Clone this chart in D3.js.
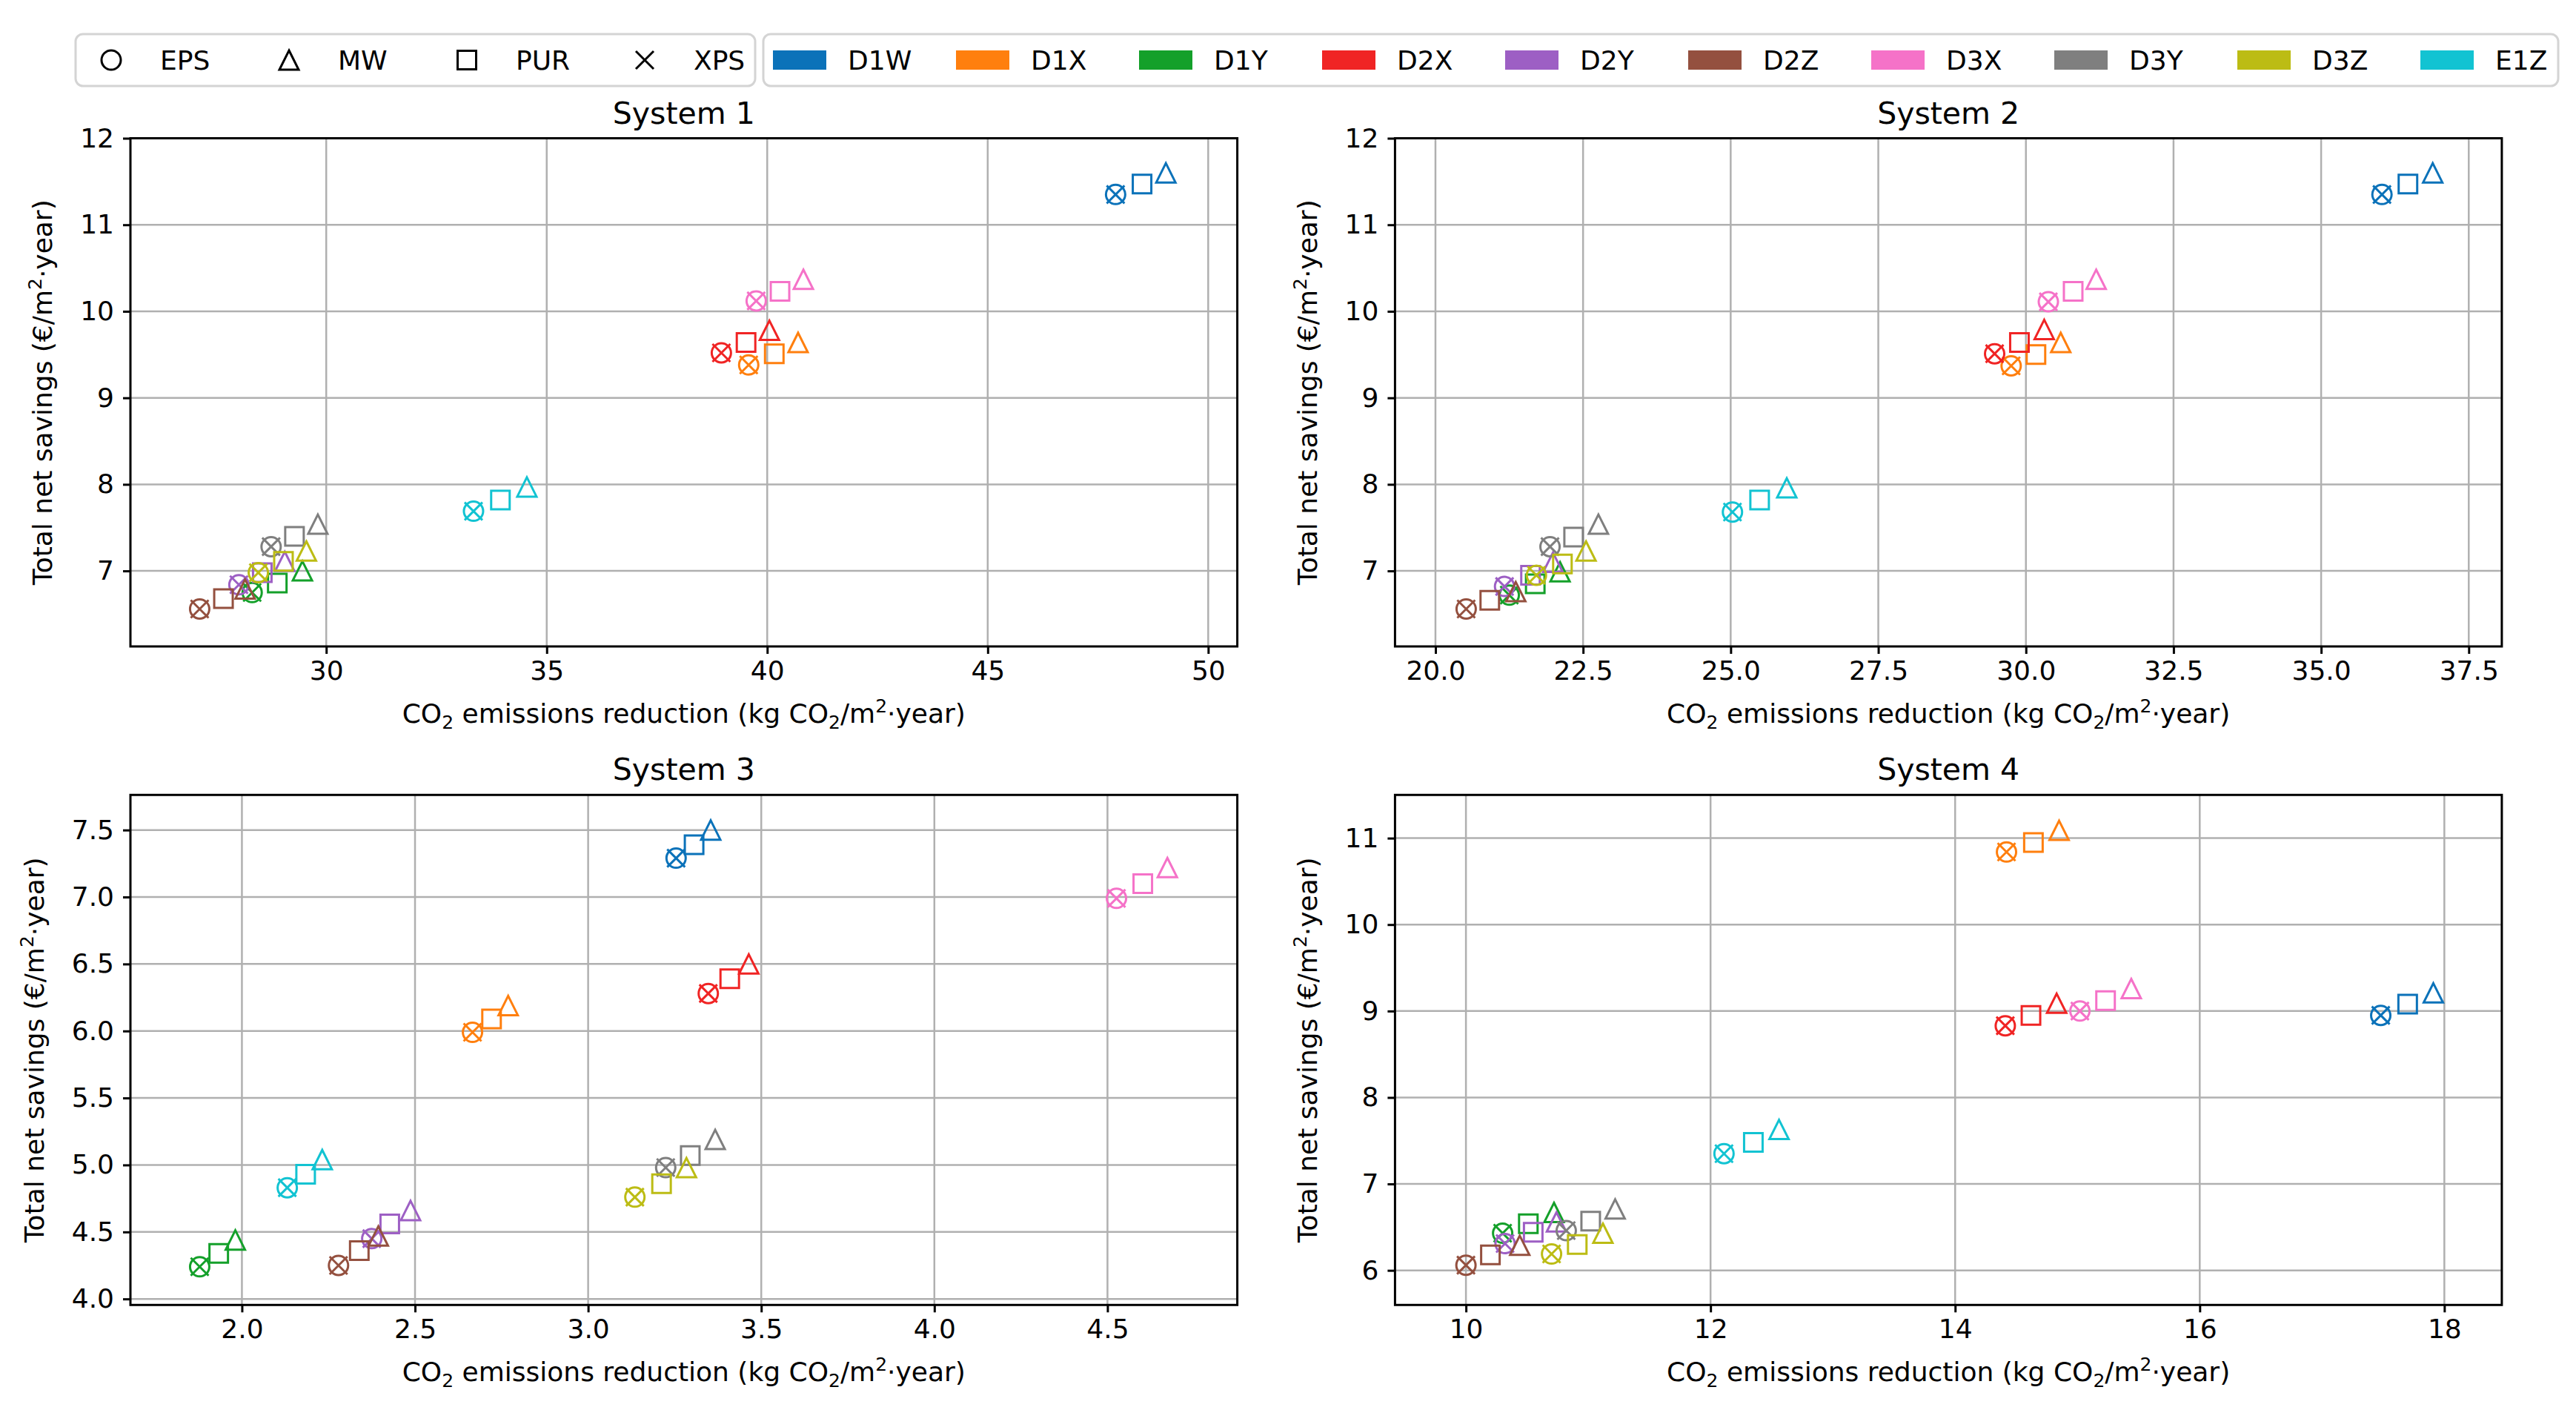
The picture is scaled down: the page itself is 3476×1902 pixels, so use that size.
<!DOCTYPE html>
<meta charset="utf-8">
<title>Total net savings vs CO2 emissions reduction</title>
<style>
    body {
        margin: 0;
        background: #fff;
    }
    svg {
        display: block;
    }
    svg text {
        font-family: "DejaVu Sans", sans-serif;
        fill: #000;
    }
</style>

<body>
    <script src="https://d3js.org/d3.v7.min.js"></script>
    <script>
        /* Designs (colours) and insulation materials (marker shapes) */
        var designs = ["D1W", "D1X", "D1Y", "D2X", "D2Y", "D2Z", "D3X", "D3Y", "D3Z", "E1Z"];
        var insulations = ["EPS", "MW", "PUR", "XPS"];
        var designColors = ["#0b72b9", "#ff7f0e", "#14a02a", "#f02424", "#9d5fc4",
            "#94503f", "#f572c8", "#7f7f7f", "#bcbc14", "#12c3d2"];

        var systemTitles = ["System 1", "System 2", "System 3", "System 4"];

        /* rows: EPS, MW, PUR, XPS ; columns: designs in the order above */
        /* CO2 emissions reduction (kg CO2/m2 year) */
        var sys1CO2 = [
            [47.90, 39.58, 28.32, 38.96, 28.02, 27.13, 39.75, 28.75, 28.46, 33.34],
            [49.04, 40.70, 29.46, 40.05, 29.06, 28.16, 40.82, 29.81, 29.55, 34.55],
            [48.50, 40.16, 28.89, 39.52, 28.55, 27.67, 40.29, 29.28, 29.03, 33.95],
            [47.90, 39.58, 28.32, 38.96, 28.02, 27.13, 39.75, 28.75, 28.46, 33.34]
        ];
        /* Total net savings (EUR/m2 year) */
        var sys1Savings = [
            [11.35, 9.38, 6.75, 9.52, 6.84, 6.56, 10.12, 7.28, 6.98, 7.69],
            [11.60, 9.64, 7.00, 9.78, 7.11, 6.79, 10.37, 7.54, 7.23, 7.97],
            [11.47, 9.51, 6.86, 9.64, 6.98, 6.68, 10.23, 7.40, 7.11, 7.82],
            [11.35, 9.38, 6.75, 9.52, 6.84, 6.56, 10.12, 7.28, 6.98, 7.69]
        ];

        var sys2CO2 = [
            [36.03, 29.75, 21.25, 29.47, 21.17, 20.52, 30.38, 21.94, 21.71, 25.03],
            [36.89, 30.59, 22.11, 30.31, 21.99, 21.36, 31.19, 22.76, 22.55, 25.95],
            [36.47, 30.17, 21.69, 29.89, 21.61, 20.92, 30.80, 22.34, 22.15, 25.49],
            [36.03, 29.75, 21.25, 29.47, 21.17, 20.52, 30.38, 21.94, 21.71, 25.03]
        ];
        var sys2Savings = [
            [11.35, 9.37, 6.72, 9.51, 6.82, 6.56, 10.11, 7.28, 6.95, 7.68],
            [11.60, 9.64, 6.99, 9.79, 7.10, 6.76, 10.37, 7.54, 7.23, 7.96],
            [11.47, 9.50, 6.85, 9.64, 6.95, 6.66, 10.23, 7.39, 7.08, 7.82],
            [11.35, 9.37, 6.72, 9.51, 6.82, 6.56, 10.11, 7.28, 6.95, 7.68]
        ];

        var sys3CO2 = [
            [3.254, 2.666, 1.878, 3.347, 2.375, 2.279, 4.526, 3.224, 3.135, 2.131],
            [3.354, 2.769, 1.981, 3.464, 2.487, 2.394, 4.673, 3.367, 3.284, 2.232],
            [3.306, 2.721, 1.933, 3.409, 2.427, 2.339, 4.602, 3.295, 3.212, 2.184],
            [3.254, 2.666, 1.878, 3.347, 2.375, 2.279, 4.526, 3.224, 3.135, 2.131]
        ];
        var sys3Savings = [
            [7.29, 5.99, 4.24, 6.28, 4.45, 4.25, 6.99, 4.98, 4.76, 4.83],
            [7.50, 6.19, 4.44, 6.50, 4.66, 4.47, 7.22, 5.19, 4.98, 5.04],
            [7.39, 6.09, 4.34, 6.39, 4.56, 4.36, 7.10, 5.07, 4.86, 4.93],
            [7.29, 5.99, 4.24, 6.28, 4.45, 4.25, 6.99, 4.98, 4.76, 4.83]
        ];

        var sys4CO2 = [
            [17.48, 14.42, 10.30, 14.41, 10.32, 10.00, 15.02, 10.82, 10.70, 12.11],
            [17.91, 14.85, 10.72, 14.83, 10.74, 10.44, 15.44, 11.22, 11.12, 12.56],
            [17.70, 14.64, 10.51, 14.62, 10.55, 10.20, 15.23, 11.02, 10.91, 12.35],
            [17.48, 14.42, 10.30, 14.41, 10.32, 10.00, 15.02, 10.82, 10.70, 12.11]
        ];
        var sys4Savings = [
            [8.95, 10.84, 6.43, 8.83, 6.31, 6.06, 9.00, 6.46, 6.19, 7.35],
            [9.21, 11.09, 6.67, 9.09, 6.56, 6.29, 9.26, 6.71, 6.43, 7.63],
            [9.08, 10.95, 6.54, 8.95, 6.44, 6.18, 9.12, 6.57, 6.30, 7.48],
            [8.95, 10.84, 6.43, 8.83, 6.31, 6.06, 9.00, 6.46, 6.19, 7.35]
        ];

        /* tick values */
        var sys1XTicks = [30, 35, 40, 45, 50];
        var sys1YTicks = [7, 8, 9, 10, 11, 12];
        var sys2XTicks = [20, 22.5, 25, 27.5, 30, 32.5, 35, 37.5];
        var sys2YTicks = [7, 8, 9, 10, 11, 12];
        var sys3XTicks = [2.0, 2.5, 3.0, 3.5, 4.0, 4.5];
        var sys3YTicks = [4.0, 4.5, 5.0, 5.5, 6.0, 6.5, 7.0, 7.5];
        var sys4XTicks = [10, 12, 14, 16, 18];
        var sys4YTicks = [6, 7, 8, 9, 10, 11];

        /* Layout */
        var width = 3476,
            height = 1902;
        var fontSize = 36;

        var svg = d3.select("body").append("svg")
            .attr("width", width)
            .attr("height", height);

        svg.append("rect").attr("width", width).attr("height", height).attr("fill", "#fff");

        /* marker path for each insulation */
        function markerPath(k) {
            var r = 13;
            if (k === 0) return "M" + r + ",0A" + r + "," + r + " 0 1,1 " + (-r) + ",0A" + r + "," + r + " 0 1,1 " + r + ",0Z";
            if (k === 1) return "M0," + (-r) + "L" + r + "," + r + "L" + (-r) + "," + r + "Z";
            if (k === 2) return "M-12.5,-12.5H12.5V12.5H-12.5Z";
            return "M-12,-12L12,12M-12,12L12,-12";
        }

        var panels = [
            { left: 176, top: 186.5, w: 1493.6, h: 685.5, xDomain: [25.56, 50.66], yDomain: [6.127, 12.0] },
            { left: 1882.4, top: 186.5, w: 1493.5, h: 685.5, xDomain: [19.315, 38.06], yDomain: [6.127, 12.0] },
            { left: 176, top: 1072.3, w: 1493.6, h: 688, xDomain: [1.678, 4.875], yDomain: [3.955, 7.762] },
            { left: 1882.4, top: 1072.3, w: 1493.5, h: 688, xDomain: [9.42, 18.47], yDomain: [5.6, 11.5] }
        ];

        drawPanel(panels[0], sys1CO2, sys1Savings, systemTitles[0], sys1XTicks, sys1YTicks, d3.format("d"), d3.format("d"));
        drawPanel(panels[1], sys2CO2, sys2Savings, systemTitles[1], sys2XTicks, sys2YTicks, d3.format(".1f"), d3.format("d"));
        drawPanel(panels[2], sys3CO2, sys3Savings, systemTitles[2], sys3XTicks, sys3YTicks, d3.format(".1f"), d3.format(".1f"));
        drawPanel(panels[3], sys4CO2, sys4Savings, systemTitles[3], sys4XTicks, sys4YTicks, d3.format("d"), d3.format("d"));

        drawLegend();

        function drawPanel(p, co2, savings, title, xTicks, yTicks, xFmt, yFmt) {
            var g = svg.append("g").attr("transform", "translate(" + p.left + "," + p.top + ")");
            var x = d3.scaleLinear().domain(p.xDomain).range([0, p.w]);
            var y = d3.scaleLinear().domain(p.yDomain).range([p.h, 0]);

            // grid
            g.append("g").selectAll("line")
                .data(xTicks)
                .join("line")
                .attr("x1", d => x(d)).attr("x2", d => x(d))
                .attr("y1", 0).attr("y2", p.h)
                .attr("stroke", "#b0b0b0").attr("stroke-width", 2.5);
            g.append("g").selectAll("line")
                .data(yTicks)
                .join("line")
                .attr("x1", 0).attr("x2", p.w)
                .attr("y1", d => y(d)).attr("y2", d => y(d))
                .attr("stroke", "#b0b0b0").attr("stroke-width", 2.5);

            // markers: one group per design, one marker per insulation
            designs.forEach(function (name, j) {
                var mg = g.append("g").attr("class", "design");
                insulations.forEach(function (ins, k) {
                    mg.append("path")
                        .attr("d", markerPath(k))
                        .attr("transform", "translate(" + x(co2[k][j]) + "," + y(savings[k][j]) + ")")
                        .attr("fill", "none")
                        .attr("stroke", designColors[j])
                        .attr("stroke-width", 3);
                });
            });

            // frame
            g.append("rect")
                .attr("width", p.w).attr("height", p.h)
                .attr("fill", "none").attr("stroke", "#000").attr("stroke-width", 3);

            // axes
            var xa = g.append("g")
                .attr("transform", "translate(0," + p.h + ")")
                .call(d3.axisBottom(x).tickValues(xTicks).tickFormat(xFmt).tickSize(10).tickPadding(9));
            var ya = g.append("g")
                .call(d3.axisLeft(y).tickValues(yTicks).tickFormat(yFmt).tickSize(10).tickPadding(12));
            [xa, ya].forEach(function (a) {
                a.select(".domain").remove();
                a.attr("font-size", fontSize).attr("font-family", "DejaVu Sans");
                a.selectAll("line").attr("stroke-width", 3);
            });

            // title
            g.append("text")
                .attr("x", p.w / 2).attr("y", -20)
                .attr("text-anchor", "middle")
                .attr("font-size", 41)
                .text(title);

            // x label with sub/superscripts
            var xl = g.append("text")
                .attr("x", p.w / 2).attr("y", p.h + 103)
                .attr("text-anchor", "middle")
                .attr("font-size", fontSize);
            xl.append("tspan").text("CO");
            xl.append("tspan").attr("font-size", 25).attr("dy", 8).text("2");
            xl.append("tspan").attr("dy", -8).text(" emissions reduction (kg CO");
            xl.append("tspan").attr("font-size", 25).attr("dy", 8).text("2");
            xl.append("tspan").attr("dy", -8).text("/m");
            xl.append("tspan").attr("font-size", 25).attr("dy", -14).text("2");
            xl.append("tspan").attr("dy", 14).text("\u00b7year)");

            // y label
            var bb = ya.node().getBBox();
            var yl = g.append("text")
                .attr("transform", "translate(" + (bb.x - 38) + "," + (p.h / 2) + ") rotate(-90)")
                .attr("text-anchor", "middle")
                .attr("font-size", fontSize);
            yl.append("tspan").text("Total net savings (\u20ac/m");
            yl.append("tspan").attr("font-size", 25).attr("dy", -14).text("2");
            yl.append("tspan").attr("dy", 14).text("\u00b7year)");
        }

        function drawLegend() {
            var lg = svg.append("g").attr("class", "legend");

            // box 1: insulation marker shapes
            lg.append("rect")
                .attr("x", 102).attr("y", 46).attr("width", 917).attr("height", 70)
                .attr("rx", 10).attr("fill", "#fff")
                .attr("stroke", "#d4d4d4").attr("stroke-width", 3);
            insulations.forEach(function (ins, k) {
                var cx = 150 + 240 * k;
                lg.append("path")
                    .attr("d", markerPath(k))
                    .attr("transform", "translate(" + cx + ",81)")
                    .attr("fill", "none").attr("stroke", "#000").attr("stroke-width", 3);
                lg.append("text")
                    .attr("x", cx + 66).attr("y", 94)
                    .attr("font-size", fontSize)
                    .text(ins);
            });

            // box 2: design colours
            lg.append("rect")
                .attr("x", 1030).attr("y", 46).attr("width", 2422).attr("height", 70)
                .attr("rx", 10).attr("fill", "#fff")
                .attr("stroke", "#d4d4d4").attr("stroke-width", 3);
            designs.forEach(function (name, j) {
                var px = 1043 + 247 * j;
                lg.append("rect")
                    .attr("x", px).attr("y", 68).attr("width", 72).attr("height", 26)
                    .attr("fill", designColors[j]);
                lg.append("text")
                    .attr("x", px + 101).attr("y", 94)
                    .attr("font-size", fontSize)
                    .text(name);
            });
        }
    </script>
</body>
